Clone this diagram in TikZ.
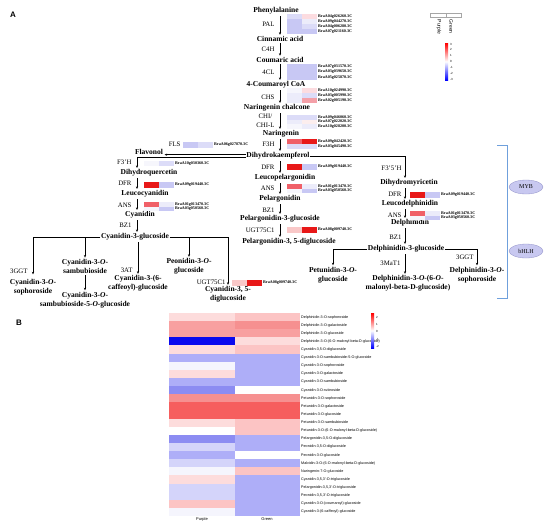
\documentclass[tikz,border=0pt]{standalone}
\usepackage{fontspec}
\setmainfont{Liberation Serif}
\newfontfamily\sansf{Liberation Sans}
\usetikzlibrary{arrows.meta,shapes.geometric}
% heatmap A colours
\definecolor{Rd}{HTML}{E81818}
\definecolor{Rm}{HTML}{F06068}
\definecolor{Pk}{HTML}{F4A0A8}
\definecolor{Pl}{HTML}{F9C8C8}
\definecolor{Pv}{HTML}{FCDCE0}
\definecolor{Pw}{HTML}{FCEEEE}
\definecolor{Wt}{HTML}{F6F6FC}
\definecolor{Lv}{HTML}{C8C8F4}
\definecolor{Ll}{HTML}{DCDCF8}
\definecolor{Lw}{HTML}{ECECFA}
% heatmap B colours
\definecolor{bPk}{HTML}{F8A0A0}
\definecolor{bPm}{HTML}{F69090}
\definecolor{bRd}{HTML}{F65E5E}
\definecolor{bPl}{HTML}{FCC4C4}
\definecolor{bPv}{HTML}{FDDCDC}
\definecolor{bWt}{HTML}{F5F5FD}
\definecolor{bLv}{HTML}{AEAEF8}
\definecolor{bLl}{HTML}{D4D4FA}
\definecolor{bBm}{HTML}{8C8CF2}
\definecolor{bBl}{HTML}{0A0AEE}
\definecolor{brk}{HTML}{6FA0DC}
\definecolor{tfc}{HTML}{C8C8F0}
\definecolor{tfd}{HTML}{9090C8}
\newcommand{\hmA}[7]{%
  \fill[#5] (#2,#3) rectangle ++(15,#4);
  \fill[#6] ({#2+15},#3) rectangle ++(15,#4);
  \node[gene] (#1) at ({#2+31},{#3+#4/2}) {#7};}
\newcommand{\brow}[4]{%
  \fill[#2] (169,{313+(#1-1)*8.12}) rectangle (235.2,{313+#1*8.12});
  \fill[#3] (235,{313+(#1-1)*8.12}) rectangle (300,{313+#1*8.12});
  \node[blab] (b#1) at (301,{313+(#1-0.5)*8.12}) {#4};}
\begin{document}
\begin{tikzpicture}[x=1pt,y=-1pt,
  met/.style={font=\bfseries\fontsize{7.5}{9.3}\selectfont, inner sep=0.4pt, align=center},
  enz/.style={font=\fontsize{6.8}{9}\selectfont, inner sep=0.3pt, anchor=east, align=center},
  gene/.style={font=\bfseries\fontsize{4.1}{5}\selectfont, inner sep=0pt, anchor=west},
  blab/.style={font=\sansf\fontsize{3.7}{4}\selectfont, inner sep=0pt, anchor=west},
  tick/.style={font=\sansf\fontsize{3}{3.5}\selectfont, inner sep=0pt, anchor=west},
  arr/.style={-{Stealth[length=2.6pt,width=2.2pt]}, line width=0.55pt, shorten <=1pt, shorten >=1pt},
  tf/.style={ellipse, fill=tfc, draw=tfd, line width=0.3pt, minimum width=34pt, minimum height=14pt, inner sep=0pt, font=\fontsize{6}{7}\selectfont}]
\useasboundingbox (0,0) rectangle (550,528);
\fill[white] (0,0) rectangle (550,528);
\coordinate (mx) at (280,0);
\coordinate (lx) at (137,0);
\coordinate (rx) at (405,0);
% panel labels
\node[font=\sansf\bfseries\fontsize{8}{9}\selectfont] (lA) at (13,15) {A};
\node[font=\sansf\bfseries\fontsize{8}{9}\selectfont] (lB) at (19,323) {B};
% middle column
\node[met] (phe) at (276,11) {Phenylalanine};
\node[met] (cin) at (280,39) {Cinnamic acid};
\node[met] (cou) at (280,60) {Coumaric acid};
\node[met] (cca) at (276,85) {4-Coumaroyl CoA};
\node[met] (nch) at (277,108) {Naringenin chalcone};
\node[met] (nar) at (281,134) {Naringenin};
\node[met] (dhk) at (278,156) {Dihydrokaempferol};
\node[met] (lpg) at (285,178) {Leucopelargonidin};
\node[met] (pel) at (280,199) {Pelargonidin};
\node[met] (p3g) at (280,219) {Pelargonidin-3-glucoside};
\node[met] (p35) at (289,242) {Pelargonidin-3, 5-diglucoside};
\foreach \a/\b in {phe/cin,cin/cou,cou/cca,cca/nch,nch/nar,nar/dhk,dhk/lpg,lpg/pel,pel/p3g,p3g/p35}
  \draw[arr] (\a.south -| mx) -- (\b.north -| mx);
\node[enz] (ePAL) at (275,24) {PAL};
\node[enz] (eC4H) at (275,49) {C4H};
\node[enz] (e4CL) at (275,72) {4CL};
\node[enz] (eCHS) at (275,97) {CHS};
\node[enz] (eCHI) at (275,120.5) {CHI/\\CHI-L};
\node[enz] (eF3H) at (275,144) {F3H};
\node[enz] (eDFRm) at (275,167) {DFR};
\node[enz] (eANSm) at (275,188) {ANS};
\node[enz] (eBZm) at (275,210) {BZ1};
\node[enz] (eUGTm) at (275,230) {UGT75C1};
% heatmaps middle
\hmA{gPALa}{287}{14}{5}{Ll}{Pv}{BraA04g026260.3C}
\hmA{gPALb}{287}{19}{5}{Lv}{Lw}{BraA09g044270.3C}
\hmA{gPALc}{287}{24}{5}{Lv}{Ll}{BraA04g006280.3C}
\hmA{gPALd}{287}{29}{5}{Lv}{Lv}{BraA07g021160.3C}
\hmA{g4CLa}{287}{64}{5.3}{Lv}{Lv}{BraA07g031570.3C}
\hmA{g4CLb}{287}{69.3}{5.3}{Lv}{Lv}{BraA03g039650.3C}
\hmA{g4CLc}{287}{74.6}{5.3}{Lv}{Lv}{BraA05g025870.3C}
\hmA{gCHSa}{287}{88}{5}{Wt}{Pv}{BraA10g024990.3C}
\hmA{gCHSb}{287}{93}{5}{Lw}{Ll}{BraA03g005990.3C}
\hmA{gCHSc}{287}{98}{5}{Lw}{Pk}{BraA02g005190.3C}
\hmA{gCHIa}{287}{115}{4.7}{Ll}{Ll}{BraA09g046060.3C}
\hmA{gCHIb}{287}{119.7}{4.7}{Lw}{Pw}{BraA07g022020.3C}
\hmA{gCHIc}{287}{124.4}{4.7}{Wt}{Lw}{BraA10g028200.3C}
\hmA{gF3Ha}{287}{139}{5}{Rm}{Rd}{BraA09g042420.3C}
\hmA{gF3Hb}{287}{144}{5}{Ll}{Ll}{BraA03g045490.3C}
\hmA{gDFRm}{287}{164}{6}{Rd}{Lv}{BraA09g019440.3C}
\hmA{gANSma}{287}{184}{4.7}{Rm}{Lw}{BraA01g013470.3C}
\hmA{gANSmb}{287}{188.7}{4.7}{Wt}{Lv}{BraA03g050560.3C}
\hmA{gUGTm}{287}{227}{6}{Pl}{Rd}{BraA08g009740.3C}
% left column
\node[met] (flv) at (149,151.5) {Flavonol};
\node[met] (dhq) at (149,173) {Dihydroquercetin};
\node[met] (lcy) at (145,194) {Leucocyanidin};
\node[met] (cya) at (140,215) {Cyanidin};
\node[met] (c3g) at (135,237) {Cyanidin-3-glucoside};
\coordinate (kw1) at ([yshift=1.3pt]dhk.west);
\coordinate (kw2) at ([yshift=-1.3pt]dhk.west);
\draw[arr, shorten <=0pt] (kw1) -- (kw1 -| flv.east);
\draw[arr, shorten <=0pt] (kw2) -| (dhq.north -| lx);
\foreach \a/\b in {dhq/lcy,lcy/cya,cya/c3g}
  \draw[arr] (\a.south -| lx) -- (\b.north -| lx);
\node[enz] (eFLS) at (181,144) {FLS};
\node[enz] (eF3pH) at (132,162) {F3'H};
\node[enz] (eDFRl) at (132,183) {DFR};
\node[enz] (eANSl) at (132,205) {ANS};
\node[enz] (eBZl) at (132,225) {BZ1};
\hmA{gFLS}{183}{142}{5.5}{Lv}{Ll}{BraA06g027870.3C}
\hmA{gF3pH}{144}{161}{5}{Wt}{Ll}{BraA10g030360.3C}
\hmA{gDFRl}{144}{182}{5.5}{Rd}{Lv}{BraA09g019440.3C}
\hmA{gANSla}{144}{202}{4.5}{Rm}{Lw}{BraA01g013470.3C}
\hmA{gANSlb}{144}{206.5}{4.5}{Wt}{Lv}{BraA03g050560.3C}
% cyanidin branches
\node[met] (c3s) at (33,287) {Cyanidin-3-\textit{O}-\\sophoroside};
\node[met] (c3sb) at (85,266.5) {Cyanidin-3-\textit{O}-\\sambubioside};
\node[met] (c3sb5) at (85,300) {Cyanidin-3-\textit{O}-\\sambubioside-5-\textit{O}-glucoside};
\node[met] (c3caf) at (138,283.5) {Cyanidin-3-(6-\\caffeoyl)-glucoside};
\node[met] (p3o) at (189,266.5) {Peonidin-3-\textit{O}-\\glucoside};
\node[met] (cy35) at (228,294.5) {Cyanidin-3, 5-\\diglucoside};
\draw[arr, shorten <=0pt, shorten >=4pt] (c3g.west) -| (c3s.north);
\draw[arr, shorten <=0pt] (c3sb.north |- c3g.west) -- (c3sb.north);
\draw[arr] (c3sb.south) -- (c3sb5.north);
\draw[arr] (c3caf.north |- c3g.south) -- (c3caf.north);
\draw[arr, shorten <=0pt] (p3o.north |- c3g.east) -- (p3o.north);
\draw[arr, shorten <=0pt] (c3g.east) -| (cy35.north);
\node[enz] (e3GGTl) at (28,271) {3GGT};
\node[enz] (e3AT) at (133,270) {3AT};
\node[enz] (eUGTl) at (226,282) {UGT75C1};
\hmA{gUGTl}{232}{280}{5.5}{Pl}{Rd}{BraA08g009740.3C}
% right column
\node[met] (dhm) at (409,183) {Dihydromyricetin};
\node[met] (ldp) at (410,204) {Leucodelphinidin};
\node[met] (del) at (410,223) {Delphinidin};
\node[met] (d3g) at (406,249) {Delphinidin-3-glucoside};
\draw[arr, shorten <=0pt] (dhk.east) -| (dhm.north -| rx);
\foreach \a/\b in {dhm/ldp,ldp/del,del/d3g}
  \draw[arr] (\a.south -| rx) -- (\b.north -| rx);
\node[enz] (eF35H) at (402,168) {F3'5'H};
\node[enz] (eDFRr) at (402,194) {DFR};
\node[enz] (eANSr) at (402,215) {ANS};
\node[enz] (eBZr) at (402,237) {BZ1};
\hmA{gDFRr}{410}{192}{5.5}{Rd}{Lv}{BraA09g019440.3C}
\hmA{gANSra}{410}{211}{4.5}{Rm}{Lw}{BraA01g013470.3C}
\hmA{gANSrb}{410}{215.5}{4.5}{Wt}{Lv}{BraA03g050560.3C}
\node[met] (pet) at (333,275) {Petunidin-3-\textit{O}-\\glucoside};
\node[met] (dmal) at (408,283.5) {Delphinidin-3-\textit{O}-(6-\textit{O}-\\malonyl-beta-D-glucoside)};
\node[met] (dsp) at (477,275) {Delphinidin-3-\textit{O}-\\sophoroside};
\draw[arr, shorten <=0pt] (d3g.west) -| (pet.north);
\draw[arr] (d3g.south -| rx) -- (dmal.north -| rx);
\draw[arr, shorten <=0pt] (d3g.east) -| (dsp.north);
\node[enz] (e3MaT) at (401,263) {3MaT1};
\node[enz] (e3GGTr) at (474,257) {3GGT};
% regulators
\draw[brk, line width=0.7pt] (497,145) -- (507,145) -- (507,298) -- (497,298);
\node[tf] (myb) at (526,187) {MYB};
\node[tf] (bhlh) at (526,251) {bHLH};
% legend A
\draw[gray!70, line width=0.3pt] (430,13) rectangle (446,17.5);
\draw[gray!70, line width=0.3pt] (446,13) rectangle (461,17.5);
\node[font=\sansf\fontsize{5}{6}\selectfont, inner sep=0pt, rotate=-90, anchor=west] (lgP) at (439,19.5) {Purple};
\node[font=\sansf\fontsize{5}{6}\selectfont, inner sep=0pt, rotate=-90, anchor=west] (lgG) at (451,19.5) {Green};
\shade[top color=red, bottom color=blue, middle color=white] (445,43) rectangle (448,80);
\foreach \v [count=\i from 0] in {3,2,1,0,-1,-2,-3}
  \node[tick] (ta\i) at (450,{44+\i*5.83}) {\v};
% panel B heatmap
\brow{1}{bPv}{bPl}{Delphinidin-3-O-sophoroside}
\brow{2}{bPk}{bPm}{Delphinidin-3-O-galactoside}
\brow{3}{bPk}{bPk}{Delphinidin-3-O-glucoside}
\brow{4}{bBl}{bPv}{Delphinidin-3-O-(6-O-malonyl-beta-D-glucoside)}
\brow{5}{bPv}{bPl}{Cyanidin-3,5-O-diglucoside}
\brow{6}{bLv}{bLv}{Cyanidin-3-O-sambubioside-5-O-glucoside}
\brow{7}{bWt}{bLv}{Cyanidin-3-O-sophoroside}
\brow{8}{bPv}{bLv}{Cyanidin-3-O-galactoside}
\brow{9}{bLv}{bLv}{Cyanidin-3-O-sambubioside}
\brow{10}{bBm}{white}{Cyanidin-3-O-rutinoside}
\brow{11}{bPm}{bPm}{Petunidin-3-O-sophoroside}
\brow{12}{bRd}{bRd}{Petunidin-3-O-galactoside}
\brow{13}{bRd}{bRd}{Petunidin-3-O-glucoside}
\brow{14}{bPv}{bPl}{Petunidin-3-O-sambubioside}
\brow{15}{white}{bPl}{Petunidin-3-O-(6-O-malonyl-beta-D-glucoside)}
\brow{16}{bBm}{bLv}{Pelargonidin-3,5-O-diglucoside}
\brow{17}{bLl}{bLv}{Peonidin-3,5-O-diglucoside}
\brow{18}{bLv}{white}{Peonidin-3-O-glucoside}
\brow{19}{bLl}{bLv}{Malvidin-3-O-(6-O-malonyl-beta-D-glucoside)}
\brow{20}{bWt}{bPl}{Naringenin-7-O-glucoside}
\brow{21}{bPv}{bLv}{Cyanidin-3,5,3'-O-triglucoside}
\brow{22}{bLl}{bLv}{Pelargonidin-3,5,3'-O-triglucoside}
\brow{23}{bLl}{bLv}{Peonidin-3,5,3'-O-triglucoside}
\brow{24}{bPl}{bLv}{Cyanidin-3-O-(coumaroyl)-glucoside}
\brow{25}{bWt}{bLv}{Cyanidin-3-(6-caffeoyl)-glucoside}
\node[font=\sansf\fontsize{4}{5}\selectfont, inner sep=0pt] (bxP) at (202,519) {Purple};
\node[font=\sansf\fontsize{4}{5}\selectfont, inner sep=0pt] (bxG) at (267,519) {Green};
% legend B
\shade[top color=red, bottom color=blue, middle color=white] (371,313) rectangle (374,348);
\foreach \v [count=\i from 0] in {2,1,0,-1,-2}
  \node[tick] (tb\i) at (376,{317+\i*7.4}) {\v};
\end{tikzpicture}
\end{document}
